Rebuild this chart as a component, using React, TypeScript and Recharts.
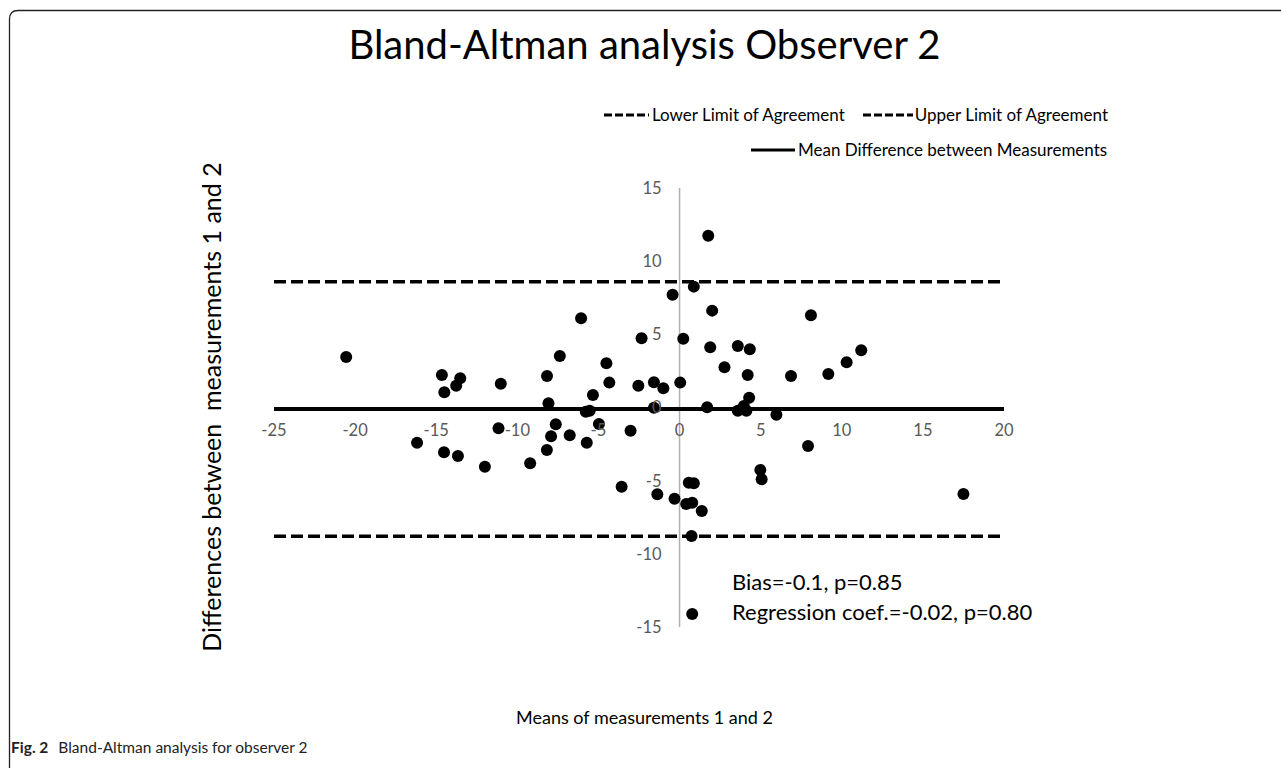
import { ScatterChart, Scatter, XAxis, YAxis, ReferenceLine, ReferenceDot } from 'recharts';

// means of measurements 1 and 2
const meanX = [
  -20.55, -16.18, -14.65, -14.5, -14.52, -13.52, -13.77, -13.66, -12.0, -11.02,
  -11.16, -9.21, -8.17, -8.08, -8.18, -7.92, -7.63, -7.38, -6.77, -6.07,
  -5.78, -5.54, -5.72, -5.34, -4.97, -4.51, -4.33, -3.57, -3.02, -2.54,
  -2.34, -1.58, -1.58, -1.37, -1.0, -0.43, -0.31, 0.04, 0.23, 0.41,
  0.57, 0.78, 0.88, 0.88, 0.74, 0.78, 1.37, 1.77, 1.7, 1.89,
  2.01, 2.77, 3.59, 3.59, 3.96, 4.12, 4.2, 4.29, 4.33, 4.98,
  5.06, 5.97, 6.87, 7.92, 8.1, 9.17, 10.3, 11.2, 17.5,
];
// differences between measurements 1 and 2
const diffY = [
  3.45, -2.41, 2.22, 1.04, -3.06, 2.0, 1.49, -3.32, -4.05, 1.63,
  -1.42, -3.81, 2.15, 0.29, -2.9, -1.97, -1.15, 3.52, -1.9, 6.1,
  -0.29, -0.22, -2.41, 0.85, -1.13, 3.02, 1.7, -5.41, -1.59, 1.49,
  4.73, -0.01, 1.72, -5.93, 1.31, 7.71, -6.23, 1.7, 4.7, -6.6,
  -5.14, -6.51, -5.18, 8.26, -8.78, -14.11, -7.07, 11.74, 0.01, 4.11,
  6.62, 2.75, -0.22, 4.2, 0.1, -0.22, 2.22, 0.67, 3.98, -4.27,
  -4.91, -0.49, 2.15, -2.63, 6.3, 2.29, 3.09, 3.91, -5.91,
];

const xTicks = [-25, -20, -15, -10, -5, 0, 5, 10, 15, 20];
const yTicks = [-15, -10, -5, 0, 5, 10, 15];

const bias = -0.1;
const upperLoA = 8.6;
const lowerLoA = -8.8;

const points = meanX.map((x, i) => ({ x, y: diffY[i] }));

const font = 'Lato, "Open Sans", sans-serif';
const tickColor = '#595959';

const Dot = (props: any) => <circle cx={props.cx} cy={props.cy} r={6} fill="#000" />;

function LegendSample({ dashed, width }: { dashed: boolean; width: number }) {
  return (
    <svg width={width} height={8} style={{ display: 'block' }}>
      <line
        x1={0}
        y1={4}
        x2={width}
        y2={4}
        stroke="#000"
        strokeWidth={3}
        strokeDasharray={dashed ? '8 3' : undefined}
      />
    </svg>
  );
}

const abs = (left: number, top: number, extra: React.CSSProperties = {}): React.CSSProperties => ({
  position: 'absolute',
  left,
  top,
  whiteSpace: 'pre',
  fontFamily: font,
  lineHeight: 1,
  ...extra,
});

export default function App() {
  return (
    <div style={{ position: 'absolute', left: 0, top: 0, width: 1281, height: 768, background: '#fff', overflow: 'hidden' }}>
      {/* frame: left and top edges with a rounded corner */}
      <svg width={1281} height={768} style={{ position: 'absolute', left: 0, top: 0 }}>
        <path d="M9.5 768 L9.5 19 Q9.5 10.5 18 10.5 L1281 10.5" fill="none" stroke="#222" strokeWidth={1.3} />
      </svg>

      <div style={abs(8, 24, { width: 1273, textAlign: 'center', fontSize: 40, color: '#000' })}>
        Bland-Altman analysis Observer 2
      </div>

      {/* legend */}
      <div style={abs(604, 106, { display: 'flex', alignItems: 'center', fontSize: 17, color: '#000' })}>
        <LegendSample dashed width={45} />
        <span style={{ marginLeft: 3 }}>Lower Limit of Agreement</span>
        <span style={{ width: 18 }} />
        <LegendSample dashed width={50} />
        <span style={{ marginLeft: 2 }}>Upper Limit of Agreement</span>
      </div>
      <div style={abs(751, 141, { display: 'flex', alignItems: 'center', fontSize: 17, color: '#000' })}>
        <LegendSample dashed={false} width={44} />
        <span style={{ marginLeft: 3 }}>Mean Difference between Measurements</span>
      </div>

      <div style={{ position: 'absolute', left: 0, top: 0 }}>
        <ScatterChart width={1281} height={768} margin={{ left: 274, top: 188, right: 277, bottom: 141 }}>
          <XAxis type="number" dataKey="x" domain={[-25, 20]} ticks={xTicks} hide />
          <YAxis type="number" dataKey="y" domain={[-15, 15]} ticks={yTicks} hide />
          <ReferenceLine segment={[{ x: 0, y: -15 }, { x: 0, y: 15 }]} stroke="#b0b0b0" strokeWidth={1.5} />
          <ReferenceLine y={upperLoA} stroke="#000" strokeWidth={3.5} strokeDasharray="12 5" />
          <ReferenceLine y={lowerLoA} stroke="#000" strokeWidth={3.5} strokeDasharray="12 5" />
          <ReferenceLine y={bias} stroke="#000" strokeWidth={4} />
          {xTicks.map((t) => (
            <ReferenceDot
              key={'x' + t}
              x={t}
              y={0}
              r={0}
              stroke="none"
              label={{ value: String(t), position: 'bottom', offset: 17, fill: tickColor, fontSize: 16.5, fontFamily: font }}
            />
          ))}
          {yTicks.map((t) => (
            <ReferenceDot
              key={'y' + t}
              x={0}
              y={t}
              r={0}
              stroke="none"
              label={{ value: String(t), position: 'left', offset: 18, fill: tickColor, fontSize: 16.5, fontFamily: font }}
            />
          ))}
          <Scatter data={points} shape={Dot} isAnimationActive={false} />
        </ScatterChart>
      </div>

      <div
        style={abs(211, 407, {
          fontSize: 25,
          color: '#000',
          transform: 'translate(-50%, -50%) rotate(-90deg)',
        })}
      >
        Differences between  measurements 1 and 2
      </div>

      <div style={abs(732, 571, { fontSize: 22, color: '#000' })}>Bias=-0.1, p=0.85</div>
      <div style={abs(732, 601, { fontSize: 22, color: '#000' })}>Regression coef.=-0.02, p=0.80</div>

      <div style={abs(8, 708, { width: 1273, textAlign: 'center', fontSize: 18, color: '#000' })}>
        Means of measurements 1 and 2
      </div>

      <div style={abs(11, 740, { fontSize: 15.5, color: '#222' })}>
        <b>Fig. 2</b>
        <span style={{ marginLeft: 10 }}>Bland-Altman analysis for observer 2</span>
      </div>
    </div>
  );
}
